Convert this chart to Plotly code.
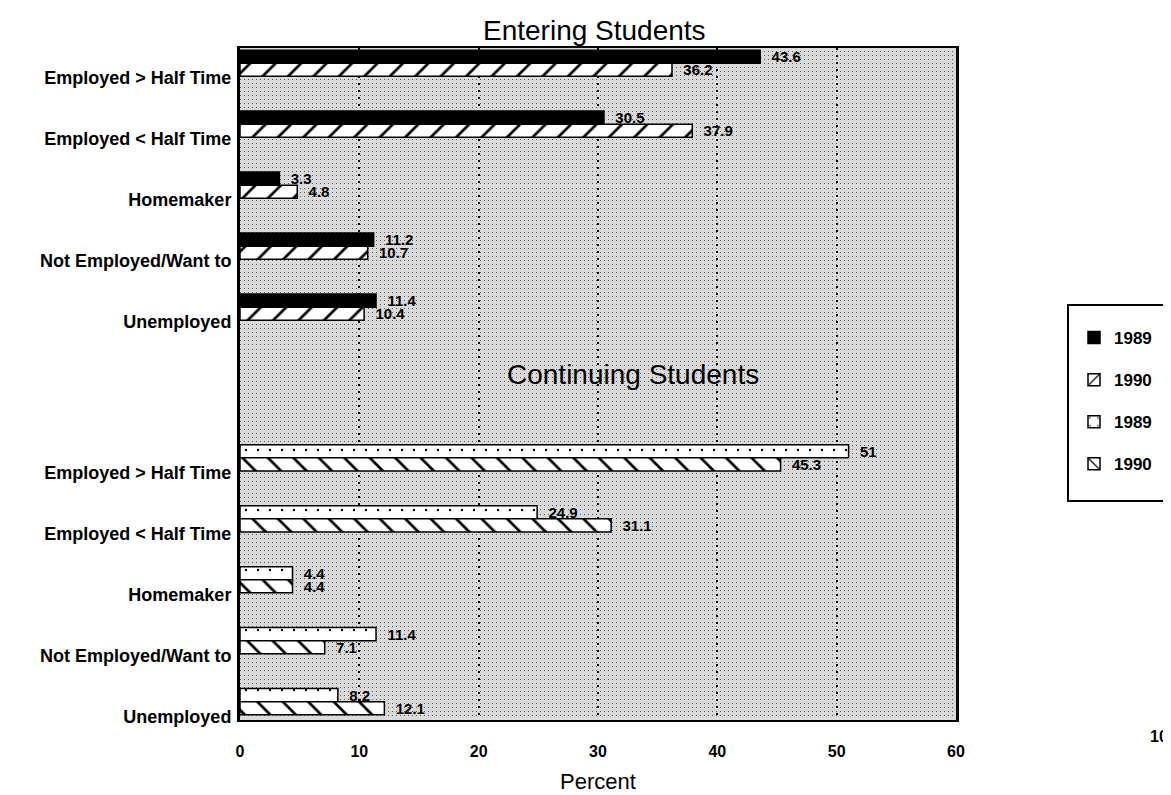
import plotly.graph_objects as go

categories = ["Employed > Half Time", "Employed < Half Time", "Homemaker",
              "Not Employed/Want to", "Unemployed"]
entering_1989 = [43.6, 30.5, 3.3, 11.2, 11.4]
entering_1990 = [36.2, 37.9, 4.8, 10.7, 10.4]
continuing_1989 = [51, 24.9, 4.4, 11.4, 8.2]
continuing_1990 = [45.3, 31.1, 4.4, 7.1, 12.1]
entering_labels = ["43.6", "30.5", "3.3", "11.2", "11.4"]
entering_labels_90 = ["36.2", "37.9", "4.8", "10.7", "10.4"]
continuing_labels = ["51", "24.9", "4.4", "11.4", "8.2"]
continuing_labels_90 = ["45.3", "31.1", "4.4", "7.1", "12.1"]
x_ticks = [0, 10, 20, 30, 40, 50, 60]

# category slot positions on the y axis (entering group, gap, continuing group)
ent_pos = [i for i in range(len(categories))]
con_pos = [6.47 + i for i in range(len(categories))]

BW = 0.215
FONT = "Liberation Sans, Arial, sans-serif"
txtfont = dict(family=FONT, size=15, color="black")

fig = go.Figure()

def add(vals, labels, pos, off, name, pattern, color):
    fig.add_trace(go.Bar(
        x=vals, y=pos, orientation="h", name=name,
        offset=off, width=BW,
        marker=dict(color=color, line=dict(color="black", width=1.5), pattern=pattern),
        text=["<b>\u00a0\u00a0%s</b>" % t for t in labels], textposition="outside",
        textfont=txtfont, constraintext="none",
        cliponaxis=False, legendgroup=name + str(off) + str(pos[0]),
    ))

add(entering_1989, entering_labels, ent_pos, -BW, "<b>1989</b>", dict(shape=""), "black")
add(entering_1990, entering_labels_90, ent_pos, 0.0, "<b>1990</b>",
    dict(shape="/", size=18, solidity=0.15, fgcolor="black", fgopacity=1,
         bgcolor="white", fillmode="overlay"), "white")
add(continuing_1989, continuing_labels, con_pos, -BW, "<b>1989</b>",
    dict(shape=".", size=12, solidity=0.03, fgcolor="black", fgopacity=1,
         bgcolor="white", fillmode="overlay"), "white")
add(continuing_1990, continuing_labels_90, con_pos, 0.0, "<b>1990</b>",
    dict(shape="\\", size=18, solidity=0.15, fgcolor="black", fgopacity=1,
         bgcolor="white", fillmode="overlay"), "white")

tickvals = [p + 0.24 for p in ent_pos + con_pos]
ticktext = ["<b>%s</b>" % c for c in categories + categories]

fig.update_layout(
    width=1171, height=795,
    margin=dict(l=232, r=223, t=40, b=83, autoexpand=False),
    paper_bgcolor="white",
    plot_bgcolor="#dadada",
    barmode="overlay",
    font=dict(family=FONT, color="black"),
    showlegend=True,
    legend=dict(
        x=(1066 - 232) / 716, xanchor="left",
        y=(712 - 312) / 672, yanchor="top",
        bgcolor="rgba(0,0,0,0)", borderwidth=0,
        font=dict(family=FONT, size=17, color="black"),
        traceorder="grouped", tracegroupgap=17,
    ),
    xaxis=dict(
        range=[0, 60], tickvals=x_ticks,
        ticktext=["<b>%d</b>" % v for v in x_ticks],
        tickfont=dict(family=FONT, size=16, color="black"),
        showgrid=True, gridcolor="black", griddash="2px,5px", gridwidth=1.5,
        zeroline=False,
        showline=True, linecolor="black", linewidth=2, mirror=True,
        ticks="", ticklabelstandoff=16,
    ),
    yaxis=dict(
        range=[10.77, -0.25], tickvals=tickvals, ticktext=ticktext,
        tickfont=dict(family=FONT, size=18, color="black"),
        showgrid=False, zeroline=False,
        showline=True, linecolor="black", linewidth=3, mirror=True,
        ticks="", ticklabelstandoff=2,
        minor=dict(dtick=0.066, showgrid=True, gridcolor="#555555",
                   griddash="1px,3px", gridwidth=1, ticks=""),
    ),
    shapes=[dict(type="rect", xref="paper", yref="paper",
                 x0=(1060 - 232) / 716, x1=1.45,
                 y0=(712 - 493) / 672, y1=(712 - 297) / 672,
                 line=dict(color="black", width=2), fillcolor="rgba(0,0,0,0)")],
)

fig.add_annotation(text="Entering Students", xref="paper", yref="paper",
                   x=0.495, y=(712 - 22) / 672, showarrow=False,
                   font=dict(family=FONT, size=28, color="black"), yanchor="middle")
fig.add_annotation(text="Continuing Students", xref="paper", yref="paper",
                   x=(625 - 232) / 716, y=(712 - 366) / 672, showarrow=False,
                   font=dict(family=FONT, size=28, color="black"), yanchor="middle")
fig.add_annotation(text="Percent", xref="paper", yref="paper",
                   x=0.5, y=(712 - 774) / 672, showarrow=False,
                   font=dict(family=FONT, size=22, color="black"), yanchor="middle")
fig.add_annotation(text="<b>102</b>", xref="paper", yref="paper",
                   x=(1140 - 232) / 716, y=(712 - 728) / 672, showarrow=False,
                   xanchor="left", yanchor="middle",
                   font=dict(family=FONT, size=16, color="black"))

fig.write_html("out.html")
